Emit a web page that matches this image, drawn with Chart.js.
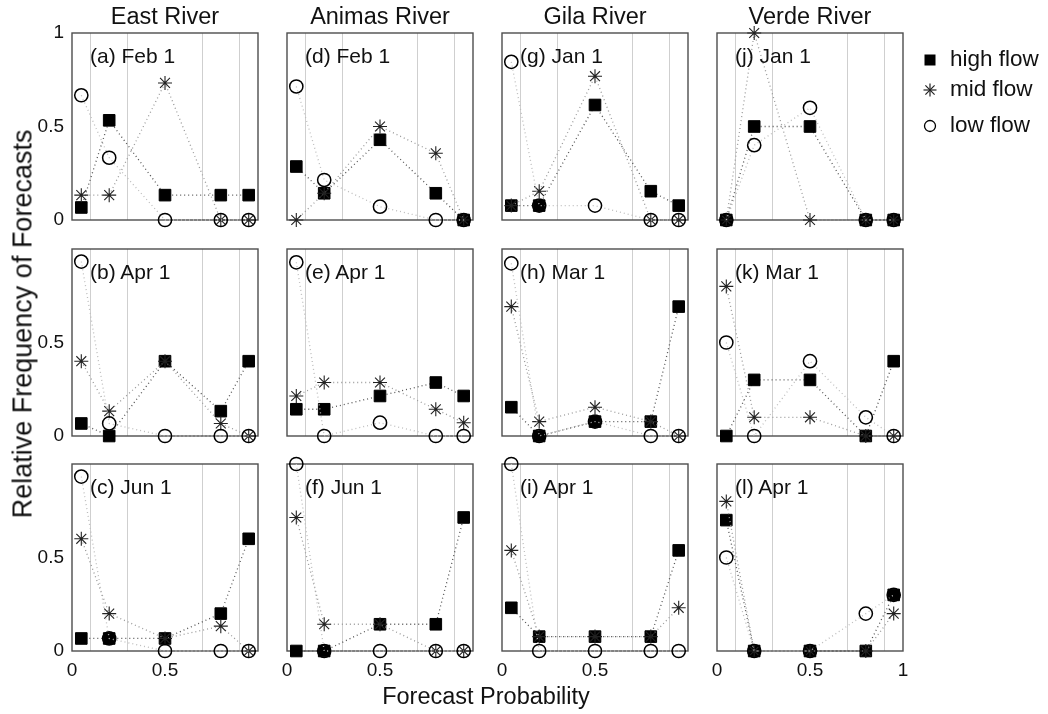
<!DOCTYPE html>
<html><head><meta charset="utf-8">
<script src="https://cdn.jsdelivr.net/npm/chart.js@4/dist/chart.umd.min.js"></script>
<style>
html,body{margin:0;padding:0;background:#fff;}
#wrap{position:relative;width:1048px;height:714px;overflow:hidden;font-family:"Liberation Sans",Arial,sans-serif;color:#111;}
#wrap canvas{position:absolute;}
.t{position:absolute;white-space:nowrap;line-height:1;}
</style></head><body><div id="wrap"></div>
<script>
// ---- data ----
const forecastProb = [0.05, 0.2, 0.5, 0.8, 0.95];
const rivers = ['East River', 'Animas River', 'Gila River', 'Verde River'];
const panelLetters = ['a','b','c','d','e','f','g','h','i','j','k','l'];
const panelDates = ['Feb 1','Apr 1','Jun 1','Feb 1','Apr 1','Jun 1','Jan 1','Mar 1','Apr 1','Jan 1','Mar 1','Apr 1'];
const seriesNames = ['high flow', 'mid flow', 'low flow'];
const highFlow = [
  [0.067, 0.533, 0.133, 0.133, 0.133],
  [0.067, 0,     0.4,   0.133, 0.4  ],
  [0.067, 0.067, 0.067, 0.2,   0.6  ],
  [0.286, 0.143, 0.429, 0.143, 0    ],
  [0.143, 0.143, 0.214, 0.286, 0.214],
  [0,     0,     0.143, 0.143, 0.714],
  [0.077, 0.077, 0.615, 0.154, 0.077],
  [0.154, 0,     0.077, 0.077, 0.692],
  [0.231, 0.077, 0.077, 0.077, 0.538],
  [0,     0.5,   0.5,   0,     0    ],
  [0,     0.3,   0.3,   0,     0.4  ],
  [0.7,   0,     0,     0,     0.3  ]
];
const midFlow = [
  [0.133, 0.133, 0.733, 0,     0    ],
  [0.4,   0.133, 0.4,   0.067, 0    ],
  [0.6,   0.2,   0.067, 0.133, 0    ],
  [0,     0.143, 0.5,   0.357, 0    ],
  [0.214, 0.286, 0.286, 0.143, 0.071],
  [0.714, 0.143, 0.143, 0,     0    ],
  [0.077, 0.154, 0.769, 0,     0    ],
  [0.692, 0.077, 0.154, 0.077, 0    ],
  [0.538, 0.077, 0.077, 0.077, 0.231],
  [0,     1,     0,     0,     0    ],
  [0.8,   0.1,   0.1,   0,     0    ],
  [0.8,   0,     0,     0,     0.2  ]
];
const lowFlow = [
  [0.667, 0.333, 0,     0,     0    ],
  [0.933, 0.067, 0,     0,     0    ],
  [0.933, 0.067, 0,     0,     0    ],
  [0.714, 0.214, 0.071, 0,     0    ],
  [0.929, 0,     0.071, 0,     0    ],
  [1,     0,     0,     0,     0    ],
  [0.846, 0.077, 0.077, 0,     0    ],
  [0.923, 0,     0.077, 0,     0    ],
  [1,     0,     0,     0,     0    ],
  [0,     0.4,   0.6,   0,     0    ],
  [0.5,   0,     0.4,   0.1,   0    ],
  [0.5,   0,     0,     0.2,   0.3  ]
];
const xGridLines = [0.1, 0.3, 0.7, 0.9];
const xTickLabels = [0, 0.5, 1];
const yTickLabels = [0, 0.5, 1];

// ---- layout ----
const FONT = '"Liberation Sans", Arial, sans-serif';
const colLeft = [72, 287, 502, 717], rowTop = [33, 249, 464];
const PW = 186, PH = 187;
const L = 60, T = 14, R = 14, B = 36;
const wrap = document.getElementById('wrap');

const framePlugin = {
  id: 'frame',
  beforeDatasetsDraw(chart) {
    const {ctx, chartArea: a} = chart;
    ctx.save();
    ctx.strokeStyle = '#4d4d4d';
    ctx.lineWidth = 1.4;
    ctx.strokeRect(a.left, a.top, a.right - a.left, a.bottom - a.top);
    ctx.restore();
  }
};

function addText(txt, css) {
  const d = document.createElement('div');
  d.className = 't';
  d.textContent = txt;
  Object.assign(d.style, css);
  wrap.appendChild(d);
  return d;
}

const allXTicks = [0, 0.1, 0.3, 0.5, 0.7, 0.9, 1];

for (let p = 0; p < 12; p++) {
  const col = Math.floor(p / 3), row = p % 3;
  const cv = document.createElement('canvas');
  cv.width = PW + L + R; cv.height = PH + T + B;
  cv.style.left = (colLeft[col] - L) + 'px';
  cv.style.top = (rowTop[row] - T) + 'px';
  wrap.appendChild(cv);
  const mk = vals => forecastProb.map((x, i) => ({x: x, y: vals[i]}));
  const xLabelSet = col === 3 ? xTickLabels : xTickLabels.slice(0, 2);
  new Chart(cv, {
    type: 'scatter',
    data: {datasets: [
      {label: seriesNames[0], data: mk(highFlow[p]), showLine: true, borderColor: '#555', borderDash: [1, 3], borderWidth: 1.3,
       pointStyle: 'rect', pointRadius: 8.2, pointBackgroundColor: '#000', pointBorderColor: '#000', pointBorderWidth: 1, clip: false, order: 2},
      {label: seriesNames[1], data: mk(midFlow[p]), showLine: true, borderColor: '#9a9a9a', borderDash: [1, 3], borderWidth: 1.3,
       pointStyle: 'star', pointRadius: 7, pointBackgroundColor: '#222', pointBorderColor: '#222', pointBorderWidth: 1.1, clip: false, order: 1},
      {label: seriesNames[2], data: mk(lowFlow[p]), showLine: true, borderColor: '#bdbdbd', borderDash: [1, 3], borderWidth: 1.3,
       pointStyle: 'circle', pointRadius: 6.6, pointBackgroundColor: 'rgba(0,0,0,0)', pointBorderColor: '#000', pointBorderWidth: 1.5, clip: false, order: 0}
    ]},
    options: {
      responsive: false, animation: false, devicePixelRatio: 1, events: [],
      layout: {padding: {left: 0, top: T, right: R, bottom: 0}},
      plugins: {legend: {display: false}, tooltip: {enabled: false}},
      scales: {
        x: {
          type: 'linear', min: 0, max: 1,
          afterBuildTicks: s => { s.ticks = allXTicks.map(v => ({value: v})); },
          afterFit: s => { s.height = B; },
          grid: {color: c => (c.tick && xGridLines.includes(c.tick.value)) ? '#cfcfcf' : 'rgba(0,0,0,0)', lineWidth: 1, drawTicks: false},
          border: {display: false},
          ticks: {display: row === 2, autoSkip: false, maxRotation: 0, padding: 8, color: '#111', font: {family: FONT, size: 19},
                  callback: v => xLabelSet.includes(v) ? String(v) : ''}
        },
        y: {
          min: 0, max: 1,
          afterBuildTicks: s => { s.ticks = yTickLabels.map(v => ({value: v})); },
          afterFit: s => { s.width = L; },
          grid: {display: false}, border: {display: false},
          ticks: {display: col === 0, padding: 0, color: '#111', font: {family: FONT, size: 19},
                  callback: v => (v === 1 && row > 0) ? '' : String(v)}
        }
      }
    },
    plugins: [framePlugin]
  });
  addText('(' + panelLetters[p] + ') ' + panelDates[p], {left: (colLeft[col] + 18) + 'px', top: (rowTop[row] + 12) + 'px', fontSize: '21px'});
}

// column titles
rivers.forEach((r, c) => {
  addText(r, {left: colLeft[c] + 'px', width: PW + 'px', textAlign: 'center', top: '5px', fontSize: '23.5px'});
});

// axis titles
addText('Forecast Probability', {left: '486px', top: '697px', transform: 'translate(-50%,-50%)', fontSize: '23.5px'});
addText('Relative Frequency of Forecasts', {left: '23px', top: '324px', transform: 'translate(-50%,-50%) rotate(-90deg)', fontSize: '27px'});

// legend
const legendY = [60, 90, 126];
const legendSvg = [
  '<svg width="16" height="16"><rect x="2.5" y="2.5" width="11" height="11" fill="#000"/></svg>',
  '<svg width="16" height="16"><g stroke="#222" stroke-width="1.2"><line x1="8" y1="1.5" x2="8" y2="14.5"/><line x1="1.5" y1="8" x2="14.5" y2="8"/><line x1="3.4" y1="3.4" x2="12.6" y2="12.6"/><line x1="3.4" y1="12.6" x2="12.6" y2="3.4"/></g></svg>',
  '<svg width="16" height="16"><circle cx="8" cy="8" r="5.5" fill="none" stroke="#000" stroke-width="1.3"/></svg>'
];
seriesNames.forEach((n, i) => {
  const m = document.createElement('div');
  m.style.position = 'absolute'; m.style.left = '922px'; m.style.top = (legendY[i] - 8) + 'px';
  m.innerHTML = legendSvg[i];
  wrap.appendChild(m);
  addText(n, {left: '950px', top: (legendY[i] - 12) + 'px', fontSize: '22.5px'});
});
</script>
</body></html>
